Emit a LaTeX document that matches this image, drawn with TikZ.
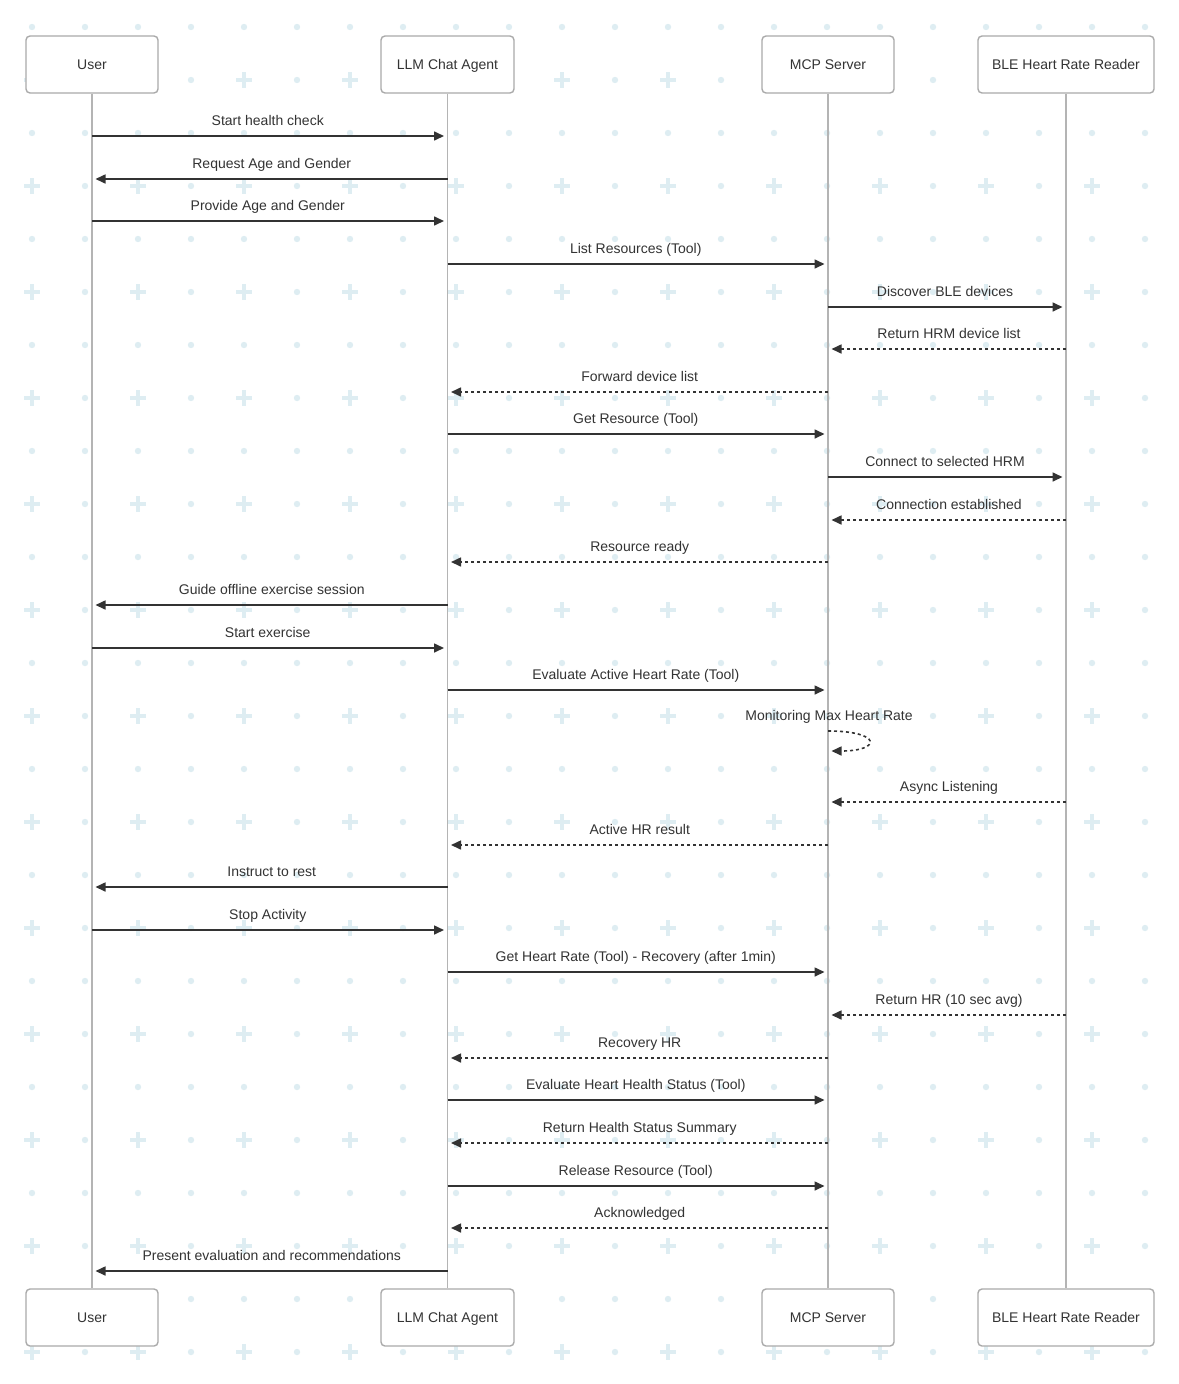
\documentclass[tikz,border=0pt]{standalone}
\usepackage{fontspec}
\setmainfont{Liberation Sans}
\usetikzlibrary{arrows.meta}
\definecolor{txt}{RGB}{51,51,51}
\definecolor{boxline}{RGB}{170,170,170}
\definecolor{lifeline}{RGB}{180,180,180}
\definecolor{patt}{RGB}{222,237,242}
\tikzset{
  actor/.style={draw=boxline, line width=1.4pt, fill=white, rounded corners=4pt,
    minimum height=57pt, inner sep=0pt, text=txt, text height=10pt, text depth=0pt,
    font=\fontsize{14}{16}\selectfont},
  lifel/.style={draw=lifeline, line width=1.5pt},
  msg/.style={draw=txt, line width=1.6pt, shorten >=3.5pt,
    -{Triangle[length=10pt,width=9pt]}},
  rmsg/.style={msg, dash pattern=on 3pt off 3pt},
  lbl/.style={anchor=base, yshift=11pt, text=txt, inner sep=0pt,
    font=\fontsize{14}{16}\selectfont},
}
\begin{document}
\begin{tikzpicture}[x=1pt,y=-1pt]
\useasboundingbox (0,0) rectangle (1178,1384);
\fill[white] (0,0) rectangle (1178,1384);
% background pattern
\foreach \j in {0,2,...,24}{
  \foreach \i in {0,...,21}{
    \fill[patt] (32+53*\i,27+53*\j) circle (3.2);
  }
}
\foreach \j in {1,3,...,25}{
  \foreach \i in {1,3,...,21}{
    \fill[patt] (32+53*\i,27+53*\j) circle (3.2);
  }
  \foreach \i in {0,2,...,20}{
    \fill[patt] (32+53*\i-8,27+53*\j-1.8) rectangle (32+53*\i+8,27+53*\j+1.8);
    \fill[patt] (32+53*\i-1.8,27+53*\j-8) rectangle (32+53*\i+1.8,27+53*\j+8);
  }
}
% participants
\node[actor, minimum width=132pt] (p1) at (92,64.5) {User};
\node[actor, minimum width=133pt] (p2) at (447.5,64.5) {LLM Chat Agent};
\node[actor, minimum width=132pt] (p3) at (828,64.5) {MCP Server};
\node[actor, minimum width=176pt] (p4) at (1066,64.5) {BLE Heart Rate Reader};
\node[actor, minimum width=132pt] (q1) at (92,1317.5) {User};
\node[actor, minimum width=133pt] (q2) at (447.5,1317.5) {LLM Chat Agent};
\node[actor, minimum width=132pt] (q3) at (828,1317.5) {MCP Server};
\node[actor, minimum width=176pt] (q4) at (1066,1317.5) {BLE Heart Rate Reader};
\foreach \k in {1,2,3,4}{
  \draw[lifel] (p\k.south) -- (q\k.north);
}
% messages: #6 = label xshift (half the tip gap, against the arrow direction)
\newcommand\mymsg[6]{%
  \draw[#5] (#1.south |- 0,#3) -- node[lbl, xshift=#6]{#4} (#2.south |- 0,#3);}
\mymsg{p1}{p2}{136}{Start health check}{msg}{-2pt}
\mymsg{p2}{p1}{179}{Request Age and Gender}{msg}{2pt}
\mymsg{p1}{p2}{221}{Provide Age and Gender}{msg}{-2pt}
\mymsg{p2}{p3}{264}{List Resources (Tool)}{msg}{-2pt}
\mymsg{p3}{p4}{307}{Discover BLE devices}{msg}{-2pt}
\mymsg{p4}{p3}{349}{Return HRM device list}{rmsg}{2pt}
\mymsg{p3}{p2}{392}{Forward device list}{rmsg}{2pt}
\mymsg{p2}{p3}{434}{Get Resource (Tool)}{msg}{-2pt}
\mymsg{p3}{p4}{477}{Connect to selected HRM}{msg}{-2pt}
\mymsg{p4}{p3}{520}{Connection established}{rmsg}{2pt}
\mymsg{p3}{p2}{562}{Resource ready}{rmsg}{2pt}
\mymsg{p2}{p1}{605}{Guide offline exercise session}{msg}{2pt}
\mymsg{p1}{p2}{648}{Start exercise}{msg}{-2pt}
\mymsg{p2}{p3}{690}{Evaluate Active Heart Rate (Tool)}{msg}{-2pt}
\draw[rmsg] (p3.south |- 0,731) .. controls +(54,0) and +(54,0) .. (p3.south |- 0,751);
\node[lbl, yshift=-11pt, anchor=center, xshift=1pt] (selfl) at (p3.south |- 0,717) {Monitoring Max Heart Rate};
\mymsg{p4}{p3}{802}{Async Listening}{rmsg}{2pt}
\mymsg{p3}{p2}{845}{Active HR result}{rmsg}{2pt}
\mymsg{p2}{p1}{887}{Instruct to rest}{msg}{2pt}
\mymsg{p1}{p2}{930}{Stop Activity}{msg}{-2pt}
\mymsg{p2}{p3}{972}{Get Heart Rate (Tool) - Recovery (after 1min)}{msg}{-2pt}
\mymsg{p4}{p3}{1015}{Return HR (10 sec avg)}{rmsg}{2pt}
\mymsg{p3}{p2}{1058}{Recovery HR}{rmsg}{2pt}
\mymsg{p2}{p3}{1100}{Evaluate Heart Health Status (Tool)}{msg}{-2pt}
\mymsg{p3}{p2}{1143}{Return Health Status Summary}{rmsg}{2pt}
\mymsg{p2}{p3}{1186}{Release Resource (Tool)}{msg}{-2pt}
\mymsg{p3}{p2}{1228}{Acknowledged}{rmsg}{2pt}
\mymsg{p2}{p1}{1271}{Present evaluation and recommendations}{msg}{2pt}
\end{tikzpicture}
\end{document}
